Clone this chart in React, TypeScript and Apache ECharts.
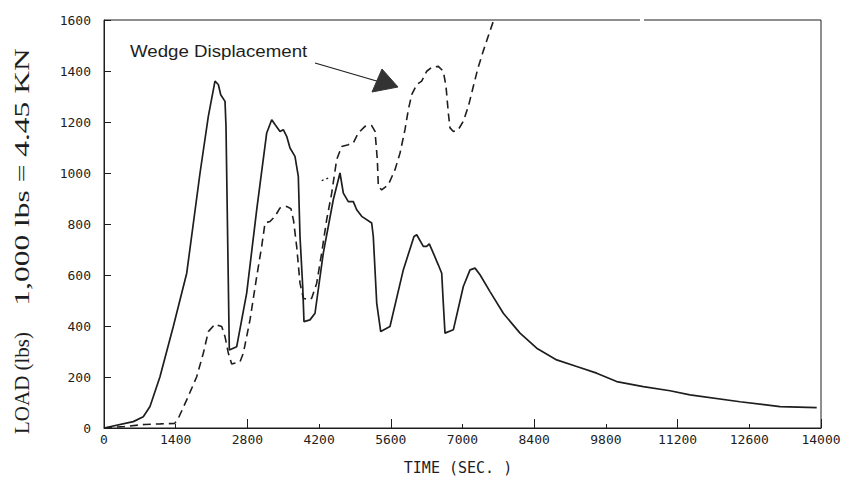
import React, { useEffect, useRef } from 'react';
import * as echarts from 'echarts';

// Time (s) / load (lbs) — solid curve
const loadData: [number, number][] = [
  [0, 0], [572, 25], [767, 44], [898, 84], [1093, 201], [1353, 398], [1615, 607],
  [1875, 1000], [2037, 1222], [2167, 1360], [2232, 1347], [2279, 1307], [2363, 1281],
  [2382, 1183], [2447, 306], [2591, 319], [2786, 529], [2982, 856], [3177, 1157],
  [3275, 1209], [3339, 1190], [3437, 1163], [3501, 1170], [3567, 1144], [3632, 1098],
  [3729, 1065], [3794, 987], [3827, 751], [3880, 555], [3905, 417], [4022, 424],
  [4120, 450], [4282, 686], [4477, 895], [4608, 1000], [4673, 921], [4770, 888],
  [4868, 888], [4934, 856], [5032, 830], [5227, 804], [5258, 751], [5325, 490],
  [5403, 378], [5584, 398], [5844, 620], [6053, 751], [6106, 758], [6235, 712],
  [6301, 712], [6352, 722], [6430, 686], [6527, 640], [6594, 607], [6625, 490],
  [6658, 372], [6821, 385], [7016, 555], [7147, 620], [7244, 627], [7342, 601],
  [7537, 535], [7797, 450], [8123, 372], [8449, 313], [8839, 267], [9230, 241],
  [9620, 215], [10011, 182], [10530, 162], [11052, 146], [11442, 130], [12419, 103],
  [13200, 84], [13916, 80],
];

// Wedge displacement — dashed curve
const wedgeData: [number, number][] = [
  [0, 0], [400, 6], [800, 14], [1100, 16], [1380, 18], [1451, 38], [1615, 110],
  [1810, 201], [1939, 293], [2037, 378], [2167, 407], [2298, 398], [2363, 358],
  [2428, 293], [2493, 251], [2656, 260], [2720, 293], [2851, 424], [2982, 594],
  [3079, 712], [3144, 804], [3241, 810], [3339, 830], [3437, 863], [3567, 869],
  [3650, 860], [3700, 815], [3762, 712], [3827, 568], [3892, 509], [3990, 503],
  [4055, 509], [4153, 568], [4250, 686], [4348, 817], [4446, 921], [4543, 1052],
  [4641, 1104], [4770, 1111], [4868, 1118], [4966, 1157], [5096, 1183], [5227, 1186],
  [5292, 1163], [5337, 1052], [5357, 947], [5422, 934], [5552, 954], [5682, 1013],
  [5780, 1078], [5877, 1170], [5942, 1248], [6008, 1307], [6106, 1347], [6203, 1360],
  [6301, 1399], [6398, 1414], [6528, 1418], [6625, 1399], [6678, 1340], [6723, 1236],
  [6756, 1177], [6821, 1163], [6919, 1170], [7016, 1203], [7114, 1261], [7212, 1340],
  [7300, 1410], [7400, 1475], [7500, 1535], [7610, 1600],
];

// small dotted trace fragment
const stubData: [number, number][] = [[4250, 970], [4340, 977], [4420, 984]];

const annotation = 'Wedge Displacement';
const yTitleA = 'LOAD (lbs)';
const yTitleB = '1,000 lbs = 4.45 KN';
const xTitle = 'TIME (SEC. )';

const INK = '#1e1e1e';
const MONO = "'DejaVu Sans Mono', monospace";
const plain = (v: number) => String(v);

export default function App() {
  const ref = useRef<HTMLDivElement>(null);
  useEffect(() => {
    const chart = echarts.init(ref.current!, null, { renderer: 'svg' });
    chart.setOption({
      animation: false,
      backgroundColor: '#fff',
      grid: { left: 104, right: 43, top: 20, bottom: 63, show: true, borderColor: INK, borderWidth: 1 },
      xAxis: [
        {
          type: 'value', min: 0, max: 14000, interval: 1400,
          axisLine: { lineStyle: { color: INK, width: 1 } },
          axisTick: { inside: true, length: 4, lineStyle: { color: INK } },
          axisLabel: { fontFamily: MONO, fontSize: 13, color: INK, margin: 5, formatter: plain },
          splitLine: { show: false },
        },
        {
          type: 'value', min: 0, max: 14000, interval: 2800, position: 'bottom',
          axisLine: { show: false },
          axisTick: { inside: true, length: 9, lineStyle: { color: INK } },
          axisLabel: { show: false },
          splitLine: { show: false },
        },
      ],
      yAxis: {
        type: 'value', min: 0, max: 1600, interval: 200,
        axisLine: { show: true, lineStyle: { color: INK, width: 1 } },
        axisTick: { show: true, inside: true, length: 7, lineStyle: { color: INK } },
        axisLabel: { fontFamily: MONO, fontSize: 13, color: INK, margin: 13, formatter: plain },
        splitLine: { show: false },
      },
      series: [
        {
          type: 'line', data: loadData, symbol: 'none', xAxisIndex: 0,
          lineStyle: { color: INK, width: 1.7 },
        },
        {
          type: 'line', data: wedgeData, symbol: 'none', xAxisIndex: 0,
          lineStyle: { color: INK, width: 1.6, type: [8, 5] },
        },
        {
          type: 'line', data: stubData, symbol: 'none', xAxisIndex: 0,
          lineStyle: { color: INK, width: 1.3, type: [2, 3] },
        },
      ],
      graphic: [
        { type: 'rect', z: 100, shape: { x: 640, y: 17, width: 4, height: 6 }, style: { fill: '#fff' } },
        {
          type: 'text', x: 130, y: 51, scaleX: 1.1,
          style: { text: annotation, fontFamily: "'Liberation Sans', Arial, sans-serif", fontSize: 17, fill: INK, textAlign: 'left', textVerticalAlign: 'middle' },
        },
        { type: 'line', shape: { x1: 315, y1: 63, x2: 380, y2: 82 }, style: { stroke: INK, lineWidth: 1.2 } },
        { type: 'polygon', shape: { points: [[372, 92], [382, 69], [398, 87]] }, style: { fill: '#333', stroke: '#333' } },
        {
          type: 'text', x: 22, y: 383, rotation: Math.PI / 2,
          style: { text: yTitleA, fontFamily: "'Liberation Serif', serif", fontSize: 21, fill: INK, textAlign: 'center', textVerticalAlign: 'middle' },
        },
        {
          type: 'text', x: 22, y: 177, rotation: Math.PI / 2, scaleX: 1.5,
          style: { text: yTitleB, fontFamily: "'Liberation Serif', serif", fontSize: 21, fill: INK, textAlign: 'center', textVerticalAlign: 'middle' },
        },
        {
          type: 'text', x: 458, y: 468,
          style: { text: xTitle, fontFamily: MONO, fontSize: 15, fill: INK, textAlign: 'center', textVerticalAlign: 'middle' },
        },
      ],
    });
    return () => chart.dispose();
  }, []);
  return <div ref={ref} style={{ position: 'fixed', left: 0, top: 0, width: 864, height: 491, background: '#fff' }} />;
}
